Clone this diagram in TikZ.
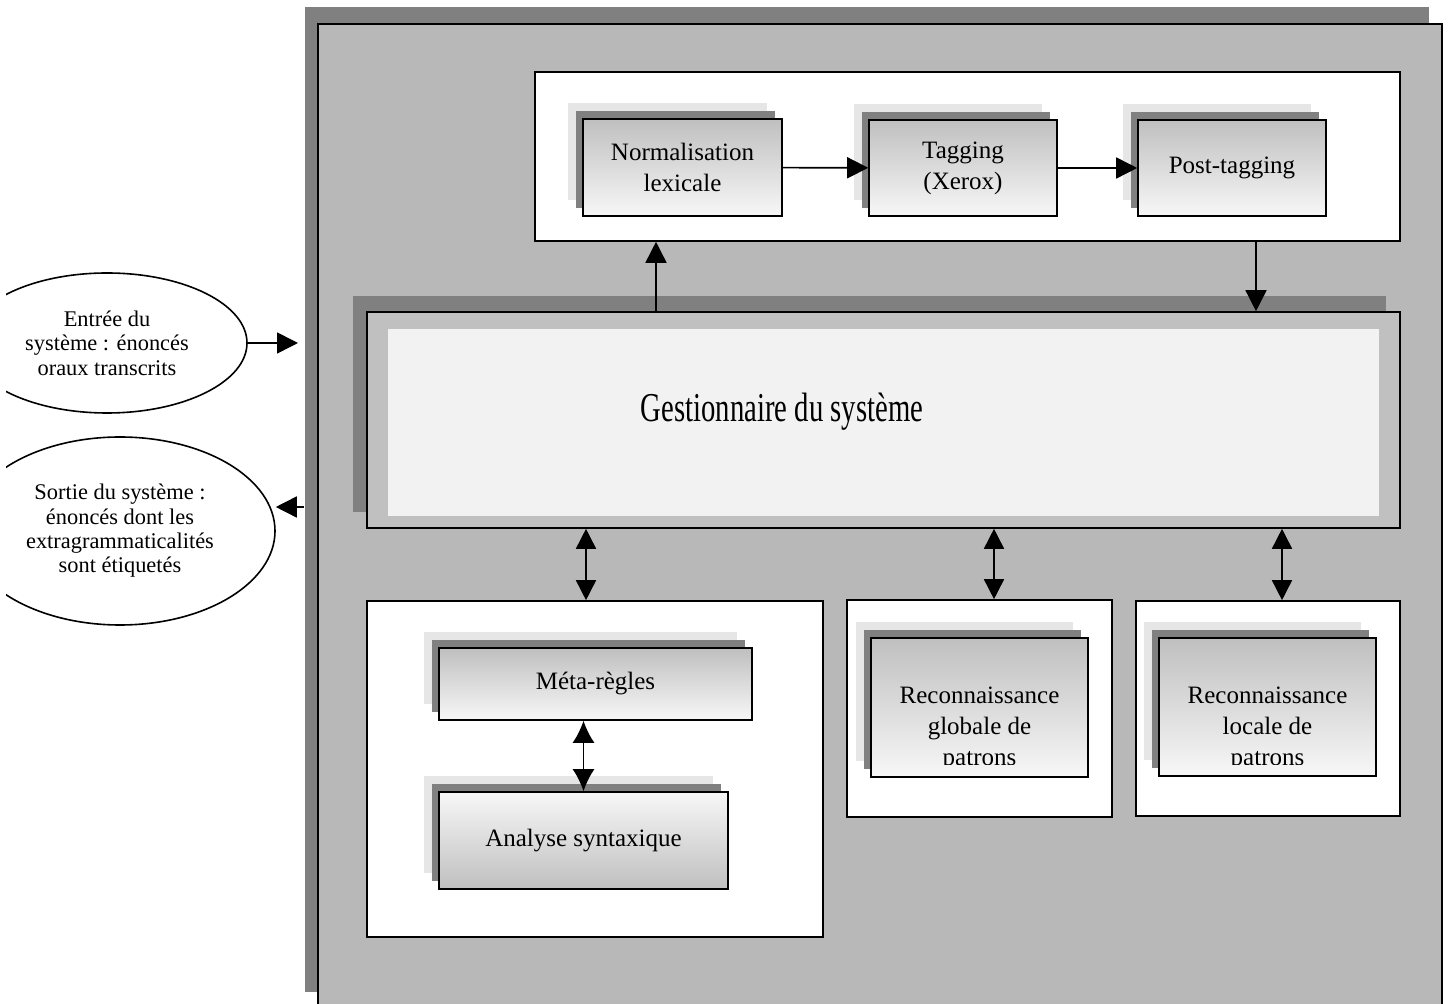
\documentclass[tikz,border=0pt]{standalone}
\usepackage{fontspec}
\setmainfont{Liberation Serif}
\newfontfamily\condfont[FakeStretch=0.7]{Liberation Serif}
\usetikzlibrary{shapes.geometric,shadows,arrows.meta}

\definecolor{cadrefond}{RGB}{184,184,184}
\definecolor{ombre}{RGB}{128,128,128}
\definecolor{ombreclaire}{RGB}{230,230,230}
\definecolor{gestfond}{RGB}{192,192,192}
\definecolor{gestint}{RGB}{242,242,242}

\tikzset{
  cadre/.style={draw, line width=0.8pt, fill=cadrefond,
    general shadow={fill=ombre, shadow xshift=-6.75pt, shadow yshift=8.5pt}},
  panel/.style={draw, line width=0.8pt, fill=white, inner sep=0pt},
  module/.style={draw, line width=0.8pt, inner sep=0pt, align=center,
    top color=black!25, bottom color=white!97!black,
    font=\fontsize{12.5}{15.5}\selectfont,
    general shadow={fill=ombreclaire, shadow xshift=-7.5pt, shadow yshift=8pt},
    general shadow={fill=ombre, shadow xshift=-3.5pt, shadow yshift=4pt}},
  module inverse/.style={module, top color=white!97!black, bottom color=black!25},
  gestion/.style={draw, line width=0.8pt, fill=gestfond, inner sep=0pt,
    general shadow={fill=ombre, shadow xshift=-7pt, shadow yshift=8pt}},
  bulle/.style={ellipse, draw, line width=0.8pt, fill=white, inner sep=0pt,
    align=center, font=\fontsize{11.2}{12.2}\selectfont},
  link/.style={line width=0.8pt, -{Triangle[length=10.5pt,width=10.5pt]}},
  dlink/.style={line width=0.8pt, {Triangle[length=10pt,width=10pt]}-{Triangle[length=10pt,width=10pt]}},
  slink/.style={line width=0.8pt, {Latex[length=11pt,width=11pt]}-{Latex[length=11pt,width=11pt]}}
}

\begin{document}
\begin{tikzpicture}[x=0.5pt, y=-0.5pt]
  \useasboundingbox (0,0) rectangle (1452,1004);
  \clip (6,0) rectangle (1452,1004);

  % cadre du systeme
  \node[cadre, minimum width=562pt, minimum height=492.5pt] (sys) at (880,516.5) {};

  % chaine de pretraitement
  \node[panel, minimum width=432.5pt, minimum height=84.5pt] (pretrait) at (967.5,156.5) {};
  \node[module, minimum width=99.5pt, minimum height=48.5pt] (norm) at (682.5,167.5) {Normalisation\\lexicale};
  \node[module, minimum width=94pt, minimum height=48pt] (tag) at (963,168) {Tagging\\(Xerox)};
  \node[module, minimum width=94pt, minimum height=48pt] (post) at (1232,168) {Post-tagging};

  % gestionnaire
  \node[gestion, minimum width=516.5pt, minimum height=108pt] (gest) at (883.5,420) {};
  \node[fill=gestint, inner sep=0pt, minimum width=495.5pt, minimum height=93.5pt] (gestcore) at (883.5,422.5) {};
  \node[font=\condfont\fontsize{20.5}{24}\selectfont] (gesttitre) at (782,412) {Gestionnaire du système};

  % modules d'analyse
  \node[panel, minimum width=228pt, minimum height=168pt] (syntaxe) at (595,769) {};
  \node[module, minimum width=156.5pt, minimum height=36pt] (meta) at (595.5,684) {Méta-règles};
  \node[module inverse, minimum width=144.5pt, minimum height=48.5pt] (analyse) at (583.5,840.5) {Analyse syntaxique};

  \node[panel, minimum width=132.5pt, minimum height=108.5pt] (pglobal) at (979.5,708.5) {};
  \node[module, minimum width=108.5pt, minimum height=69.5pt] (globale) at (979.5,707.5) {};
  \node[panel, minimum width=132pt, minimum height=107.5pt] (plocal) at (1268,708.5) {};
  \node[module, minimum width=108.5pt, minimum height=69pt] (locale) at (1267.5,707) {};
  \begin{scope}
    \clip (850,600) rectangle (1400,765);
    \node[align=center, font=\fontsize{12.5}{15.5}\selectfont] (globaletxt) at (979.5,729) {Reconnaissance\\globale de\\patrons};
    \node[align=center, font=\fontsize{12.5}{15.5}\selectfont] (localetxt) at (1267.5,729) {Reconnaissance\\locale de\\patrons};
  \end{scope}

  % entree / sortie
  \node[bulle, minimum width=140pt, minimum height=70pt] (entree) at (107,343) {Entrée du\\système : énoncés\\oraux transcrits};
  \node[bulle, minimum width=155pt, minimum height=94pt] (sortie) at (120,531) {Sortie du système :\\énoncés dont les\\extragrammaticalités\\sont étiquetés};

  % liaisons
  \coordinate (xmonte) at (656,0);
  \coordinate (xdescend) at (1256,0);
  \coordinate (xsyn) at (586,0);
  \coordinate (xglob) at (994,0);
  \coordinate (xloc) at (1282,0);
  \coordinate (entreesys) at (298,343);
  \coordinate (sortiesys) at (304,507);

  \draw[link] (norm) -- (tag);
  \draw[link] (tag) -- (post);
  \draw[link] (gest.north -| xmonte) -- (pretrait.south -| xmonte);
  \draw[link] (pretrait.south -| xdescend) -- (gest.north -| xdescend);
  \draw[dlink] (gest.south -| xsyn) -- (syntaxe.north -| xsyn);
  \draw[dlink] (gest.south -| xglob) -- (pglobal.north -| xglob);
  \draw[dlink] (gest.south -| xloc) -- (plocal.north -| xloc);
  \draw[slink] (meta.south -| analyse.north) -- (analyse.north);
  \draw[link] (entree) -- (entreesys);
  \draw[link] (sortiesys) -- (sortiesys -| sortie.east);
\end{tikzpicture}
\end{document}
